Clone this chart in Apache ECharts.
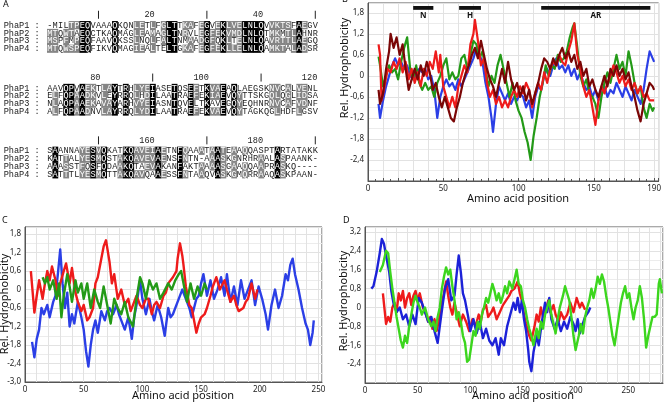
<!DOCTYPE html>
<html><head><meta charset="utf-8">
<script src="https://cdn.jsdelivr.net/npm/echarts@6/dist/echarts.min.js"></script>
<style>html,body{margin:0;padding:0;background:#fff}#c{width:664px;height:403px}</style>
</head><body><div id="c"></div>
<script>
// ---------- Panel A: alignment ----------
const seqNames = ['PhaP1','PhaP2','PhaP3','PhaP4'];
const blockStarts = [1, 71, 141];
const seqPhaP1 = ['-MILTPEQVAAAQKQNLETLFGLTTKAFEGVEKLVELNLQVVKTSFAEGV','AAVQPVAEKTLAYTRHLYEIASETQSEFTKVAEAQLAEGSKNVCALVENL','SAANNAYESVQKATKQAVEIAETNFQAAATAATEAAQQASPTARTATAKK'];
const seqPhaP2 = ['MTQWTAEQCTKAQMAGLEAMAGLTNRVLEGFEKVMDLNLQTMKMTLAHNR','ELFQPAADKVLEYRRQLHDILAATRAEFEKIAEVQYTTSKGQLQGLIDSA','KATTALYESMQSTAKQAVEVAENSFNTN-AAASKGNRHRAALASPAANK-'];
const seqPhaP3 = ['MSPFMPEQFAAVQKSSLNQLFALTNMAADGFQKLTELNLQAVRTTLAEGQ','NLAQPAAEKAVAYARHVYEIASNTQVELTKAVEGQYEQHNRNVCAFVDNF','AAASSTFQSFQDAAKQTAEVAKANFAKTAAAASGAAQQAAPRASKQ----'];
const seqPhaP4 = ['MTQWSPEQFIKVQMAGIEALTELTGKAFEGFEKLLELNLQAMKTALADSR','ALFQPAADNVLAYRRQLYDILAATRAEFEKVAEVQYTAGKQGLHDFLGSV','SATTTLYESMQTTAKQAVQAAESSFNTAAQVASKGMQRRAAQASKPAAN-'];
const simGroups = ['FYW','ILMV','KR','DE','GA','ST','NQ'];

// ---------- Panel B ----------
const B_blue = [[7,-0.8],[8,-1.2],[10,-0.7],[12,-0.3],[14,0.0],[16,0.3],[18,0.5],[20,0.3],[22,0.4],[24,0.2],[26,0.3],[28,0.0],[30,-0.1],[32,0.0],[34,0.2],[36,0.1],[38,0.2],[40,-0.1],[42,0.0],[44,-0.4],[46,-1.2],[48,-0.6],[50,-0.3],[52,-0.1],[54,-0.3],[56,-0.2],[58,-0.4],[60,-0.1],[62,-0.3],[64,-0.1],[66,0.1],[68,0.3],[70,0.5],[72,0.8],[74,0.6],[76,0.4],[78,-0.2],[80,-0.6],[82,-1.2],[83,-1.6],[85,-0.8],[87,-0.3],[89,-0.5],[91,-0.7],[93,-0.5],[95,-0.8],[97,-0.6],[99,-0.7],[101,-0.5],[103,-0.6],[105,-0.9],[107,-0.7],[109,-1.2],[111,-0.6],[113,-0.3],[115,-0.4],[117,0.0],[119,0.2],[121,0.0],[123,0.3],[125,0.5],[127,0.2],[129,0.3],[131,0.1],[133,0.3],[135,0.0],[137,0.2],[139,-0.1],[141,0.1],[143,-0.2],[145,-0.4],[147,-0.3],[149,-0.6],[151,-0.4],[153,-0.7],[155,-0.5],[157,-0.3],[159,-0.6],[161,-0.4],[163,-0.5],[165,-0.2],[167,-0.4],[169,-0.6],[171,-0.3],[173,-0.5],[175,-0.7],[177,-0.4],[179,-0.6],[181,-0.8],[183,-0.4],[185,0.2],[187,0.7],[189,0.5],[190,0.4]];
const B_red = [[7,0.9],[8,0.6],[9,-0.7],[11,-0.3],[13,0.2],[15,0.1],[17,0.4],[19,0.2],[21,0.5],[23,0.1],[25,0.4],[27,-0.1],[29,0.2],[31,-0.2],[33,0.1],[35,-0.3],[37,0.2],[39,0.0],[41,0.4],[43,0.2],[45,0.7],[47,0.1],[48,0.6],[50,-0.3],[52,-0.6],[54,-0.9],[56,-0.6],[58,-0.9],[60,-0.3],[62,0.0],[64,0.3],[66,0.1],[68,0.9],[70,1.2],[71,1.6],[73,1.0],[75,0.3],[77,0.5],[79,-0.2],[81,-0.6],[83,-0.4],[85,-0.8],[87,-0.6],[89,-0.9],[91,-0.7],[93,-0.9],[95,-0.6],[97,-0.4],[99,-0.6],[101,-0.3],[103,-0.5],[105,-0.2],[107,-0.4],[109,-0.9],[111,-0.5],[113,-0.2],[115,-0.4],[117,0.1],[119,-0.2],[121,0.2],[123,0.4],[125,0.3],[127,0.6],[129,0.4],[131,0.3],[133,0.7],[135,1.0],[137,1.5],[139,0.6],[141,0.2],[143,-0.3],[145,-0.6],[147,-0.4],[149,-0.9],[151,-1.4],[153,-0.7],[155,-0.3],[157,-0.5],[159,-0.2],[161,0.0],[163,0.3],[165,0.1],[167,-0.2],[169,0.0],[171,-0.3],[173,-0.1],[175,-0.4],[177,-0.2],[179,-0.5],[181,-0.3],[183,-0.6],[185,-0.5],[187,-0.7],[190,-0.7]];
const B_green = [[7,0.55],[8,0.3],[10,-0.3],[12,0.0],[14,0.3],[16,0.1],[18,0.2],[20,-0.1],[22,0.4],[24,0.8],[26,1.1],[28,0.2],[30,-0.1],[32,0.3],[34,-0.2],[36,-0.4],[38,-0.2],[40,-0.4],[42,-0.3],[44,-0.6],[46,-0.2],[48,0.0],[50,0.3],[52,0.5],[54,-0.1],[56,0.1],[58,-0.1],[60,0.0],[62,0.5],[64,0.6],[66,0.2],[68,0.6],[70,1.0],[72,0.9],[74,0.5],[76,0.7],[78,0.2],[80,-0.3],[82,0.0],[84,-0.2],[86,0.3],[88,0.6],[90,0.2],[92,-0.2],[94,-0.6],[96,-0.2],[98,-0.7],[100,-1.0],[102,-1.2],[104,-1.6],[106,-1.9],[108,-2.4],[110,-1.7],[112,-1.2],[114,-0.6],[116,-0.2],[118,0.3],[120,0.0],[122,0.3],[124,0.2],[126,0.6],[128,0.4],[130,0.5],[132,0.7],[134,1.1],[136,1.4],[137,1.5],[139,0.8],[141,0.0],[143,-0.3],[145,-0.1],[147,-0.5],[149,-0.6],[151,-0.8],[153,-1.2],[155,-0.6],[157,-0.2],[159,0.1],[161,-0.2],[163,0.2],[165,0.6],[167,0.2],[169,0.4],[171,0.0],[173,0.7],[175,0.3],[177,-0.2],[179,-0.5],[181,-0.3],[183,-0.9],[185,-1.2],[187,-0.8],[189,-1.0],[190,-0.9]];
const B_darkred = [[7,-0.4],[8,-0.8],[10,-0.5],[12,0.2],[14,0.7],[15,1.2],[17,0.8],[19,1.1],[21,0.6],[23,0.9],[25,0.2],[27,-0.4],[29,-0.1],[31,0.2],[33,-0.1],[35,0.3],[37,0.0],[39,0.4],[41,0.1],[43,-0.4],[45,-0.2],[47,-0.6],[49,-0.9],[51,-0.6],[53,-0.9],[55,-1.2],[57,-1.3],[59,-0.9],[61,-0.6],[63,-0.2],[65,0.1],[67,0.3],[69,0.6],[71,0.8],[73,0.5],[75,1.0],[77,0.6],[79,0.2],[81,-0.1],[83,-0.3],[85,-0.6],[87,-0.2],[89,0.2],[91,-0.2],[93,0.4],[95,-0.1],[97,-0.4],[99,-0.2],[101,-0.6],[103,-0.3],[105,-0.7],[107,-0.4],[109,-0.8],[111,-0.5],[113,-0.2],[115,0.2],[117,0.5],[119,0.4],[121,0.2],[123,0.5],[125,0.3],[127,0.6],[129,0.8],[131,0.5],[133,0.7],[135,0.4],[137,0.6],[139,0.2],[141,0.4],[143,0.0],[145,0.2],[147,-0.3],[149,-0.1],[151,-0.4],[153,-0.6],[155,-0.3],[157,0.0],[159,-0.3],[161,0.2],[163,0.0],[165,0.3],[167,0.0],[169,0.2],[171,-0.1],[173,0.1],[175,-0.3],[177,-0.6],[179,-1.0],[181,-1.3],[183,-0.8],[185,-0.5],[187,-0.2],[189,-0.3],[190,-0.4]];
const domainNames = ['N','H','AR'];
const domainStart = [30, 60.5, 115];
const domainEnd = [43.4, 75, 187.5];

// ---------- Panel C ----------
const C_red = [[5,0.6],[8,-0.75],[10,-0.2],[12,0.3],[15,-0.3],[17,0.2],[19,0.6],[21,0.3],[23,0.75],[26,0.3],[28,-0.2],[30,0.2],[33,0.6],[35,0.85],[38,0.2],[40,0.7],[43,-0.1],[45,-0.4],[48,-0.7],[50,-0.5],[53,-1.0],[55,-0.9],[58,-0.6],[60,0.2],[62,0.4],[65,1.0],[67,1.4],[69,1.6],[72,0.9],[74,0.2],[76,0.5],[79,-0.3],[82,0.0],[85,-0.5],[88,-0.3],[90,-0.7],[93,-0.4],[95,-0.2],[98,-0.5],[100,-0.6],[103,-0.3],[105,-0.3],[108,-0.8],[110,-0.5],[112,-0.4],[115,-0.6],[118,-0.2],[120,-0.1],[122,0.2],[126,0.4],[129,0.6],[130,1.0],[132,1.5],[134,1.1],[135,0.8],[137,0.1],[140,-0.5],[142,-0.6],[144,-1.0],[146,-1.4],[148,-1.1],[150,-0.9],[153,-0.8],[155,-0.6],[158,-0.2],[160,0.1],[163,0.4],[166,0.0],[170,0.3],[172,0.0],[175,-0.4],[178,-0.2],[180,-0.5],[182,-0.7],[186,-0.6],[188,-0.4],[190,-0.3],[193,0.2],[196,-0.3],[198,0.0]];
const C_blue = [[6,-1.7],[8,-2.2],[10,-1.6],[12,-1.3],[14,-0.6],[16,-0.8],[19,-0.5],[21,-0.9],[24,-0.4],[26,-0.2],[28,0.5],[30,1.3],[32,0.2],[34,-0.6],[36,-0.1],[38,-1.2],[40,-0.8],[42,-1.1],[45,-0.4],[48,-0.9],[50,-1.3],[52,-2.0],[54,-2.5],[56,-1.8],[58,-1.3],[60,-1.0],[62,-1.4],[65,-0.7],[68,-1.0],[70,-0.7],[72,-0.6],[75,-0.8],[78,-0.5],[80,-0.8],[82,-1.0],[85,-1.3],[88,-0.9],[91,-1.6],[93,-0.9],[95,-0.5],[98,0.3],[100,-0.3],[103,-0.8],[106,-0.3],[108,-0.7],[110,-1.0],[113,-0.5],[116,-0.9],[119,-1.5],[122,-0.6],[124,-0.9],[126,-0.8],[130,-0.4],[134,0.0],[136,-0.2],[138,-0.4],[140,-0.6],[142,-0.9],[146,-0.3],[148,-0.2],[150,0.2],[152,0.5],[155,-0.2],[158,0.3],[161,-0.3],[164,0.0],[167,0.4],[170,-0.2],[172,0.5],[175,-0.4],[178,0.1],[181,-0.5],[184,0.3],[187,-0.3],[190,0.0],[193,0.3],[196,-0.5],[199,0.1],[202,-0.3],[205,-0.8],[207,-1.3],[210,-0.5],[213,0.0],[216,-0.6],[219,-0.2],[222,0.5],[224,0.3],[226,0.8],[228,1.0],[230,0.5],[233,0.0],[236,-0.6],[239,-1.1],[241,-1.3],[243,-1.8],[245,-1.4],[246,-1.0]];
const C_green = [[15,0.4],[17,0.2],[19,0.4],[21,0.0],[24,0.3],[27,-0.3],[29,0.2],[31,-0.9],[33,-0.2],[36,0.5],[38,0.1],[40,-0.4],[43,0.3],[45,-0.1],[48,0.2],[50,-0.3],[53,0.2],[56,-0.6],[59,0.0],[62,-0.4],[64,-0.6],[67,0.1],[70,-0.5],[73,-1.1],[76,-0.3],[79,-0.6],[82,-0.8],[85,-0.4],[88,-0.9],[92,-1.2],[95,-0.3],[98,0.4],[100,0.2],[103,-0.3],[106,0.3],[109,0.0],[112,0.2],[115,-0.3],[118,-0.1],[122,0.2],[125,0.0],[128,0.3],[131,0.5],[133,0.6],[135,0.2],[138,-0.4],[141,0.2],[144,-0.3],[147,0.1],[150,-0.2],[153,0.2],[155,0.0]];

// ---------- Panel D ----------
const D_blue = [[6,0.8],[8,0.9],[11,1.5],[14,2.3],[16,2.9],[18,2.7],[20,2.2],[23,1.5],[25,0.7],[27,0.2],[30,-0.2],[33,0.0],[36,-0.5],[39,-0.3],[42,-0.8],[45,-0.3],[48,-0.7],[51,0.4],[54,0.2],[57,-0.2],[60,-0.6],[63,-0.4],[66,-1.0],[69,-1.5],[71,-0.8],[74,0.2],[76,0.8],[79,1.2],[82,0.3],[85,0.5],[87,1.4],[89,2.2],[91,1.5],[93,0.6],[95,0.3],[98,-0.4],[100,-1.0],[103,-0.5],[106,-1.1],[109,-0.6],[112,-1.3],[115,-0.9],[118,-1.4],[121,-1.6],[124,-1.3],[127,-2.0],[129,-1.3],[132,-1.6],[135,-0.8],[138,-0.3],[141,0.2],[143,-0.1],[145,0.4],[147,-0.2],[149,0.3],[151,-0.5],[153,-1.0],[155,-1.8],[156,-2.3],[158,-2.7],[160,-1.9],[163,-1.2],[165,-1.6],[168,-0.6],[171,0.2],[173,-0.2],[175,0.4],[177,-0.5],[180,-0.9],[183,-0.5],[186,-1.0],[189,-0.6],[192,-0.9],[195,-0.4],[198,-0.7],[200,-1.0],[202,-0.5],[204,-1.1],[206,-0.8],[209,-0.4],[212,-0.2],[214,0.0]];
const D_red = [[17,0.6],[20,-0.7],[22,-0.4],[24,-0.6],[26,0.0],[28,0.2],[30,-0.2],[32,0.6],[34,0.3],[36,0.7],[38,0.0],[40,0.4],[42,0.6],[44,0.1],[46,0.5],[48,0.7],[50,0.3],[52,0.6],[55,0.0],[58,-0.3],[60,-0.6],[62,-0.4],[64,-0.9],[66,-0.5],[68,-1.0],[70,-0.6],[72,0.0],[75,0.6],[77,1.1],[79,0.5],[81,0.0],[83,-0.3],[85,0.2],[88,-0.4],[90,-0.8],[93,-0.3],[96,-0.6],[99,-1.0],[102,-0.5],[105,-0.8],[108,-0.3],[110,-0.6],[112,-0.1],[115,0.1],[117,-0.4],[120,-0.2],[122,0.0],[125,-0.5],[128,-0.2],[131,0.1],[134,0.3],[137,0.5],[139,0.7],[142,0.8],[145,1.1],[147,0.6],[149,0.3],[151,-0.3],[153,-0.7],[156,-1.2],[158,-1.4],[161,-0.8],[163,-0.3],[165,-0.6],[167,0.0],[169,-0.4],[172,-0.1],[174,0.3],[176,-0.2],[179,0.1],[181,-0.3],[184,-0.6],[186,-0.2],[189,-0.5],[192,-0.3],[195,0.2],[198,-0.2],[201,0.4],[204,0.0],[206,0.2],[209,-0.1]];
const D_green = [[14,1.5],[17,1.8],[20,2.4],[22,2.3],[24,1.5],[26,0.8],[28,0.2],[30,-0.4],[32,-0.9],[34,-1.4],[36,-1.7],[38,-1.2],[40,-1.5],[42,-0.8],[44,-0.3],[46,0.2],[48,0.5],[50,0.2],[52,0.0],[54,-0.3],[57,0.0],[60,-0.5],[63,-0.8],[65,-0.6],[67,-1.0],[69,-0.4],[71,0.0],[73,0.8],[75,1.3],[77,1.7],[79,1.4],[81,1.6],[83,0.9],[85,0.3],[87,-0.5],[89,-0.2],[91,-0.6],[93,-1.2],[95,-1.5],[97,-2.3],[99,-2.2],[101,-1.6],[103,-1.0],[105,-1.2],[107,-0.6],[109,-0.9],[111,-0.3],[113,0.0],[115,0.4],[117,0.2],[119,0.6],[121,1.0],[123,0.7],[125,0.3],[127,0.6],[129,0.2],[131,0.5],[133,0.9],[135,0.6],[137,1.1],[140,0.8],[142,1.2],[144,1.6],[146,1.0],[148,0.9],[150,0.3],[152,0.0],[154,-0.5],[156,-0.9],[158,-1.2],[160,-1.6],[163,-0.9],[165,-1.3],[167,-0.6],[169,-0.9],[171,-0.3],[173,0.0],[175,0.3],[177,-0.3],[179,-0.7],[181,-1.1],[183,-0.5],[185,0.0],[188,0.5],[190,0.9],[192,0.6],[194,0.3],[196,-0.4],[198,-1.2],[200,-1.8],[203,-1.2],[205,-0.7],[207,-1.1],[209,-0.4],[211,0.0],[213,0.3],[215,0.8],[217,0.4],[219,0.8],[221,1.3],[223,1.0],[225,1.4],[227,1.1],[229,0.5],[231,0.0],[233,-0.6],[235,-1.2],[237,-1.6],[239,-1.0],[241,-0.4],[243,0.2],[245,0.6],[247,0.9],[249,0.4],[251,0.6],[253,0.0],[255,-0.5],[257,0.0],[259,0.3],[261,0.9],[263,0.4],[265,-0.5],[267,-1.7],[269,-1.2],[271,-0.8],[273,-0.4],[275,-0.4],[277,-0.3],[279,1.0],[280,1.2],[282,0.6]];

// ---------- build alignment cells ----------
const allSeqs = [seqPhaP1, seqPhaP2, seqPhaP3, seqPhaP4];
const ROWS_PER_BLOCK = 8;
function grpOf(c){ for (const g of simGroups) if (g.indexOf(c) >= 0) return g; return c; }
const alignItems = [];
blockStarts.forEach((start, b) => {
  const base = b * ROWS_PER_BLOCK;
  const len = seqPhaP1[b].length;
  for (let c = 0; c < len; c++) {
    const col = allSeqs.map(s => s[b][c]);
    const cnt = {}; col.forEach(ch => { if (ch !== '-' && ch !== ' ') cnt[ch] = (cnt[ch] || 0) + 1; });
    let best = null, bestN = 0; for (const k in cnt) if (cnt[k] > bestN) { best = k; bestN = cnt[k]; }
    const gcnt = {}; col.forEach(ch => { if (ch !== '-') { const g = grpOf(ch); gcnt[g] = (gcnt[g] || 0) + 1; } });
    let bestG = null, bestGN = 0; for (const k in gcnt) if (gcnt[k] > bestGN) { bestG = k; bestGN = gcnt[k]; }
    col.forEach((ch, r) => {
      let shade = 0;
      if (bestN === 4) shade = 2;
      else if (bestN === 3 && ch === best) shade = 1;
      else if (bestGN >= 3 && ch !== '-' && grpOf(ch) === bestG && bestG.length > 1) shade = 1;
      alignItems.push({kind: 'cell', x: c + 0.5, y: base + r, ch: ch, shade: shade});
    });
    const pos = start + c;
    if (pos % 10 === 0) {
      if (pos % 20 === 0) alignItems.push({kind: 'num', x: c + 0.5, y: base - 1.3, ch: String(pos)});
      else alignItems.push({kind: 'tick', x: c + 0.5, y: base - 1.3, ch: '|'});
    }
  }
  seqNames.forEach((n, r) => alignItems.push({kind: 'label', x: -8, y: base + r, ch: n + ' :'}));
});

const MONO = '8.6px "Liberation Mono", "DejaVu Sans Mono", monospace';
function renderAlign(params, api) {
  const it = alignItems[params.dataIndex];
  const p = api.coord([api.value(0), api.value(1)]);
  const sz = api.size([1, 1]);
  if (it.kind === 'cell') {
    const ch = [];
    if (it.shade) ch.push({type: 'rect', shape: {x: p[0] - sz[0] / 2, y: p[1] - sz[1] / 2, width: sz[0] + 0.4, height: sz[1] + 0.4}, style: {fill: it.shade === 2 ? '#000' : '#858585'}});
    ch.push({type: 'text', style: {x: p[0], y: p[1] + 0.5, text: it.ch, align: 'center', verticalAlign: 'middle', font: MONO, fill: it.shade ? '#fff' : '#222'}});
    return {type: 'group', children: ch};
  }
  if (it.kind === 'label') return {type: 'text', style: {x: p[0], y: p[1] + 0.5, text: it.ch, align: 'left', verticalAlign: 'middle', font: MONO, fill: '#222'}};
  if (it.kind === 'num') return {type: 'text', style: {x: p[0] + 2, y: p[1], text: it.ch, align: 'right', verticalAlign: 'middle', font: MONO, fill: '#222'}};
  return {type: 'line', shape: {x1: p[0], y1: p[1] - 4, x2: p[0], y2: p[1] + 4}, style: {stroke: '#222', lineWidth: 1}};
}

function fmtComma(v) { if (Math.abs(v) < 1e-9) return '0'; return v.toFixed(1).replace('.', ','); }
const FONT = '"Noto Sans", "Open Sans", sans-serif';
const gridLine = {show: true, lineStyle: {color: '#e2e2e2', width: 1}};
function xAxisFor(gi, max, labels, ticks) {
  return {type: 'value', gridIndex: gi, min: 0, max: max, interval: 10,
    axisLine: {show: true, onZero: false, lineStyle: {color: '#555', width: 1}},
    axisTick: {show: ticks, inside: true, length: 3, lineStyle: {color: '#555'}},
    minorTick: {show: ticks, splitNumber: 2, length: 2, lineStyle: {color: '#555'}},
    axisLabel: {customValues: labels, formatter: v => String(Math.round(v)), fontSize: 8, color: '#222', margin: 4, fontFamily: FONT},
    splitLine: gridLine};
}
function yAxisFor(gi, min, max, interval, labels) {
  return {type: 'value', gridIndex: gi, min: min, max: max, interval: interval,
    axisLine: {show: true, lineStyle: {color: '#555', width: 1}},
    axisTick: {show: false},
    minorTick: {show: false, splitNumber: 2},
    minorSplitLine: {show: true, lineStyle: {color: '#ececec', width: 1}},
    axisLabel: {customValues: labels, formatter: fmtComma, fontSize: 8, color: '#222', margin: 4, fontFamily: FONT},
    splitLine: gridLine};
}
function lineSeries(xi, data, color, w) {
  return {type: 'line', xAxisIndex: xi, yAxisIndex: xi, data: data, showSymbol: false, symbol: 'none',
    lineStyle: {color: color, width: w, join: 'round'}, itemStyle: {color: color}, z: 3, silent: true};
}

const chart = echarts.init(document.getElementById('c'), null, {renderer: 'canvas'});
chart.setOption({
  animation: false,
  backgroundColor: '#fff',
  grid: [
    {left: 47, top: 0, width: 271, height: 180, show: false},
    {left: 368, top: 3, width: 294, height: 178, show: true, borderColor: '#555', borderWidth: 1, backgroundColor: '#fff'},
    {left: 25, top: 227, width: 297, height: 155, show: true, borderColor: '#555', borderWidth: 1, backgroundColor: '#fff'},
    {left: 365, top: 227, width: 298, height: 156, show: true, borderColor: '#555', borderWidth: 1, backgroundColor: '#fff'}
  ],
  xAxis: [
    {type: 'value', gridIndex: 0, min: 0, max: 50, show: false},
    xAxisFor(1, 193, [0, 50, 100, 150, 190], true),
    xAxisFor(2, 253, [0, 50, 100, 150, 200, 250], false),
    xAxisFor(3, 283, [0, 50, 100, 150, 200, 250], false)
  ],
  yAxis: [
    {type: 'value', gridIndex: 0, min: -3.18, max: 19.75, inverse: true, show: false},
    yAxisFor(1, -3.0, 2.08, 0.6, [1.8, 1.2, 0.6, 0, -0.6, -1.2, -1.8, -2.4]),
    yAxisFor(2, -3.0, 2.03, 0.6, [1.8, 1.2, 0.6, 0, -0.6, -1.2, -1.8, -2.4, -3.0]),
    yAxisFor(3, -3.2, 3.41, 0.8, [3.2, 2.4, 1.6, 0.8, 0, -0.8, -1.6, -2.4])
  ],
  graphic: [
    {type: 'text', left: 3, top: 0, style: {text: 'A', font: '9px ' + FONT, fill: '#111'}},
    {type: 'text', left: 342, top: -5, style: {text: 'B', font: '9px ' + FONT, fill: '#111'}},
    {type: 'text', left: 2, top: 216, style: {text: 'C', font: '9px ' + FONT, fill: '#111'}},
    {type: 'text', left: 343, top: 216, style: {text: 'D', font: '9px ' + FONT, fill: '#111'}},
    {type: 'text', x: 345, y: 68, rotation: Math.PI / 2, style: {text: 'Rel. Hydrophobicity', font: '11px ' + FONT, fill: '#111', align: 'center', verticalAlign: 'middle'}},
    {type: 'text', x: 5, y: 304, rotation: Math.PI / 2, style: {text: 'Rel. Hydrophobicity', font: '11px ' + FONT, fill: '#111', align: 'center', verticalAlign: 'middle'}},
    {type: 'text', x: 344, y: 301, rotation: Math.PI / 2, style: {text: 'Rel. Hydrophobicity', font: '11px ' + FONT, fill: '#111', align: 'center', verticalAlign: 'middle'}},
    {type: 'text', x: 518, y: 199, style: {text: 'Amino acid position', font: '11px ' + FONT, fill: '#111', align: 'center', verticalAlign: 'middle'}},
    {type: 'text', x: 183, y: 396, style: {text: 'Amino acid position', font: '11px ' + FONT, fill: '#111', align: 'center', verticalAlign: 'middle'}},
    {type: 'text', x: 523, y: 396, style: {text: 'Amino acid position', font: '11px ' + FONT, fill: '#111', align: 'center', verticalAlign: 'middle'}}
  ],
  series: [
    {type: 'custom', xAxisIndex: 0, yAxisIndex: 0, clip: false, silent: true,
      data: alignItems.map(it => [it.x, it.y]), renderItem: renderAlign},
    lineSeries(1, B_blue, '#2b3fe6', 2.2),
    lineSeries(1, B_green, '#239a17', 2.2),
    lineSeries(1, B_red, '#ee1b1b', 2.2),
    lineSeries(1, B_darkred, '#7a0606', 2.2),
    {type: 'custom', xAxisIndex: 1, yAxisIndex: 1, clip: false, silent: true,
      data: domainNames.map((n, i) => [domainStart[i], domainEnd[i]]),
      renderItem: function (params, api) {
        const a = api.coord([api.value(0), 1.995]);
        const b = api.coord([api.value(1), 1.885]);
        return {type: 'group', children: [
          {type: 'rect', shape: {x: a[0], y: a[1], width: b[0] - a[0], height: b[1] - a[1]}, style: {fill: '#111'}},
          {type: 'text', style: {x: (a[0] + b[0]) / 2, y: b[1] + 2, text: domainNames[params.dataIndex], align: 'center', verticalAlign: 'top', font: 'bold 8px ' + FONT, fill: '#111'}}
        ]};
      }},
    lineSeries(2, C_blue, '#2b3fe6', 2.4),
    lineSeries(2, C_red, '#ee1b1b', 2.4),
    lineSeries(2, C_green, '#239a17', 2.4),
    lineSeries(3, D_red, '#ee1b1b', 2.4),
    lineSeries(3, D_blue, '#1c22d8', 2.4),
    lineSeries(3, D_green, '#3cd61e', 2.4)
  ]
});
</script>
</body></html>
